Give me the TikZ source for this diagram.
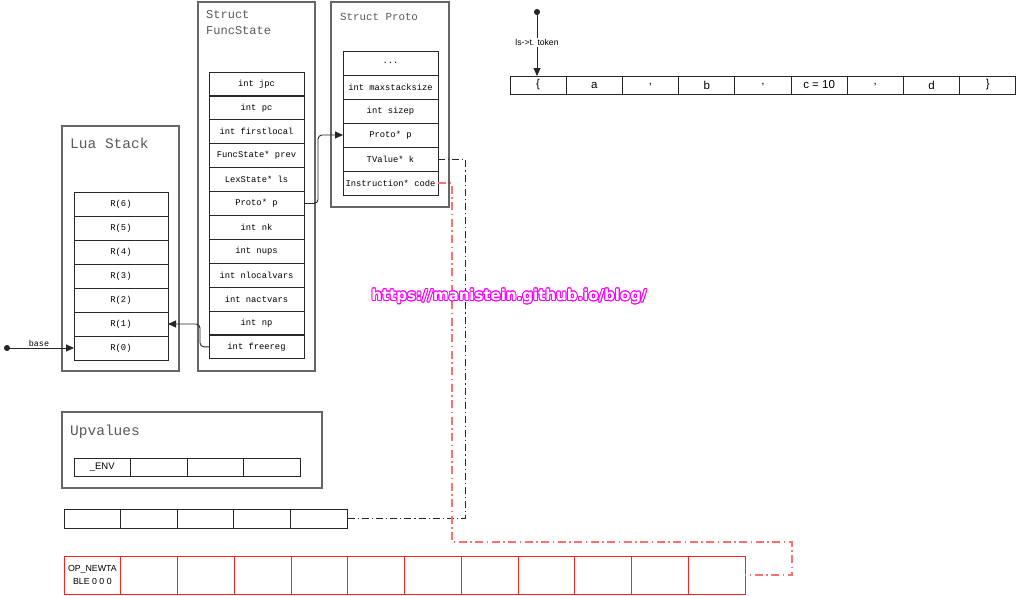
\documentclass[tikz,border=0pt]{standalone}
\usepackage{fontspec}
\setmainfont{Liberation Sans}
\setmonofont{Liberation Mono}
\newfontfamily\markfont{DejaVu Sans}
\usepackage{contour}
\usetikzlibrary{arrows.meta,positioning,calc}
\definecolor{luaFrame}{HTML}{666666}
\definecolor{luaRed}{HTML}{FF2020}
\definecolor{luaPink}{HTML}{FF7070}
\definecolor{luaMagenta}{HTML}{FF00FF}
\contourlength{0.9pt}
\newcommand\etcdots{...}

\begin{document}
\begin{tikzpicture}[x=1pt,y=-1pt,
  frame/.style={draw=luaFrame,line width=1.1pt,inner sep=0pt,outer sep=0pt,anchor=north west},
  boxtitle/.style={text=black!65,font=\ttfamily\fontsize{14.5}{16}\selectfont,anchor=base west,inner sep=0pt},
  cell/.style={draw=black!85,line width=0.9pt,inner sep=0pt,outer sep=0pt,anchor=north west,
               font=\ttfamily\fontsize{8.8}{10}\selectfont},
  fieldcell/.style={cell,minimum width=95pt,minimum height=24pt},
  slotcell/.style={cell,minimum width=56.5pt,minimum height=18pt,font=\fontsize{9.5}{11}\selectfont},
  tokcell/.style={cell,minimum width=56.2pt,minimum height=18pt,font=\fontsize{11.5}{12}\selectfont},
  opcell/.style={cell,draw=luaRed,minimum width=56.75pt,minimum height=38pt,align=center,
                 font=\fontsize{8.8}{13}\selectfont},
  lbl/.style={font=\ttfamily\fontsize{8.4}{9}\selectfont,inner sep=1pt},
  link/.style={draw=black!85,line width=0.9pt,-{Triangle[length=8pt,width=7pt]}},
  dotlink/.style={link,{Circle[length=6pt]}-{Triangle[length=8pt,width=7pt]}},
  kline/.style={draw=black!85,line width=0.9pt,dash pattern=on 7pt off 3pt on 1.2pt off 3pt},
  codeline/.style={draw=luaPink,line width=1.3pt,dash pattern=on 8pt off 3.5pt on 1.5pt off 3.5pt}]
\useasboundingbox (0,0) rectangle (1018,595);

% Lua Stack
\node[frame,minimum width=117pt,minimum height=245pt] (lsbox) at (62,126) {};
\node[boxtitle] (lstitle) at ($(lsbox.north west)+(8,22)$) {Lua Stack};
\foreach \r in {0,...,6}
  \node[fieldcell,minimum width=94pt] (ls\r) at (74,{336-24*\r}) {R(\r)};
\coordinate (basedot) at (4,348);
\draw[dotlink] (basedot) -- (ls0.west) node[midway,above,lbl] {base};

% Struct FuncState
\node[frame,minimum width=117pt,minimum height=369pt] (fsbox) at (198,2) {};
\node[boxtitle,anchor=north west,align=left,font=\ttfamily\fontsize{12}{16}\selectfont]
  (fstitle) at ($(fsbox.north west)+(8,8)$) {Struct\\FuncState};
\foreach \t [count=\i] in {int jpc,int pc,int firstlocal,FuncState* prev,LexState* ls,Proto* p,
                           int nk,int nups,int nlocalvars,int nactvars,int np,int freereg}
  \node[fieldcell] (fs\i) at (209,{72+23.9*(\i-1)}) {\t};

% Struct Proto
\node[frame,minimum width=118pt,minimum height=205pt] (prbox) at (331,2) {};
\node[boxtitle,font=\ttfamily\fontsize{10.8}{12}\selectfont]
  (prtitle) at ($(prbox.north west)+(9,18)$) {Struct Proto};
\foreach \t [count=\i] in {\etcdots,int maxstacksize,int sizep,Proto* p,TValue* k,Instruction* code}
  \node[fieldcell] (pr\i) at (343,{51+24*(\i-1)}) {\t};

% Upvalues
\node[frame,minimum width=260pt,minimum height=76pt] (upbox) at (62,412) {};
\node[boxtitle] (uptitle) at ($(upbox.north west)+(8,23)$) {Upvalues};
\foreach \t [count=\i] in {\_ENV,{},{},{}}
  \node[slotcell] (up\i) at ({74+56.5*(\i-1)},458) {\t};

% constants k
\foreach \i in {1,...,5}
  \node[slotcell,minimum width=56.6pt,minimum height=19pt] (kst\i) at ({64+56.6*(\i-1)},509) {};

% code
\node[opcell] (code1) at (64,556) {OP\_NEWTA\\BLE 0 0 0};
\foreach \i in {2,...,12}
  \node[opcell] (code\i) at ({64+56.75*(\i-1)},556) {};

% token stream
\foreach \t [count=\i] in {\{,a,{,},b,{,},c = 10,{,},d,\}}
  \node[tokcell] (tk\i) at ({510+56.2*(\i-1)},76) {\t};
\coordinate (tokdot) at (537,9);
\draw[dotlink] (tokdot) -- (tokdot |- tk1.north)
  node[midway,fill=white,lbl,font=\fontsize{8.6}{9}\selectfont] {ls->t. token};

% pointers
\draw[link,rounded corners=4pt] (fs12.west) -- ++(-9,0) |- (ls1.east);
\draw[link,rounded corners=4pt] (fs6.east) -- ++(14,0) |- (pr4.west);
\draw[kline] (pr5.east) -- ++(27,0) |- (kst5.east);
\coordinate (codeturn) at (792,542);
\draw[codeline] (pr6.east) -- ++(14,0) |- (codeturn) |- (code12.east);

% watermark
\node[text=white,font=\markfont\bfseries\fontsize{15}{16}\selectfont,inner sep=0pt] (mark) at (509,297)
  {\contour{luaMagenta}{https://manistein.github.io/blog/}};
\end{tikzpicture}
\end{document}
